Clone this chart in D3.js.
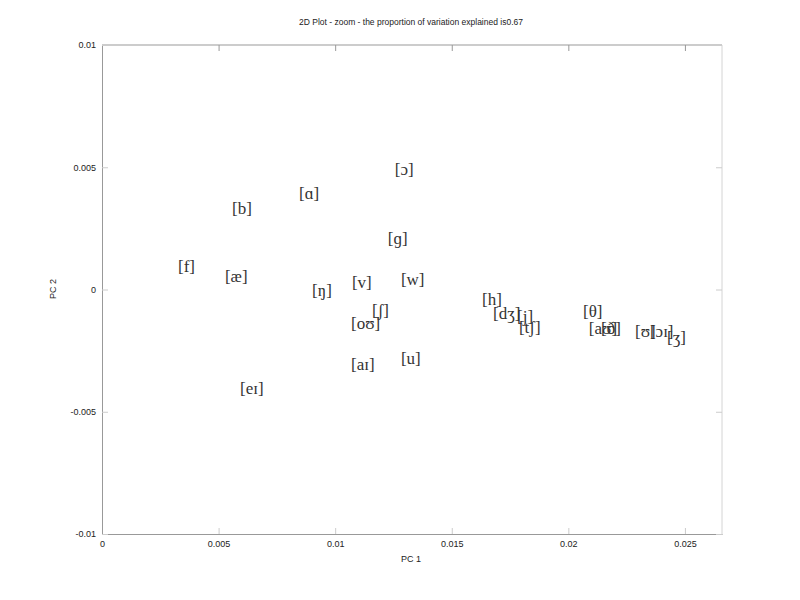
<!DOCTYPE html>
<html>
<head>
<meta charset="utf-8">
<script src="https://cdn.jsdelivr.net/npm/d3@7"></script>
<style>
  html, body { margin: 0; padding: 0; background: #fff; }
  svg { display: block; }
</style>
</head>
<body>
<svg id="chart" width="800" height="600"></svg>
<script>
// ---- Data ----
const labels = ["[ɔ]","[ɑ]","[b]","[ɡ]","[f]","[æ]","[ŋ]","[v]","[w]","[ʃ]","[oʊ]","[aɪ]","[u]","[eɪ]",
                "[h]","[dʒ]","[j]","[tʃ]","[θ]","[aʊ]","[ð]","[ʊ]","[ɔɪ]","[ʒ]"];
const pc1 = [0.01256,0.00845,0.00558,0.01226,0.00326,0.00527,0.00901,0.01072,0.01282,0.01158,0.01068,0.01068,0.01282,0.00592,
             0.01630,0.01677,0.01780,0.01788,0.02063,0.02088,0.02140,0.02286,0.02350,0.02423];
const pc2 = [0.00494,0.00396,0.00335,0.00212,0.00094,0.00057,-0.00004,0.00029,0.00041,-0.00086,-0.00139,-0.00306,-0.00282,-0.00404,
             -0.00041,-0.00098,-0.00110,-0.00155,-0.00090,-0.00159,-0.00159,-0.00168,-0.00168,-0.00196];
const xTicks = [0, 0.005, 0.01, 0.015, 0.02, 0.025];
const yTicks = [-0.01, -0.005, 0, 0.005, 0.01];
const xDomain = [0, 0.02659];
const yDomain = [-0.01, 0.01];
const title = "2D Plot - zoom - the proportion of variation explained is0.67";
const xLabel = "PC 1";
const yLabel = "PC 2";

// ---- Layout ----
const svg = d3.select("#chart");
const L = 102, R = 722, T = 45, B = 534;
const x = d3.scaleLinear().domain(xDomain).range([L, R]);
const y = d3.scaleLinear().domain(yDomain).range([B, T]);
const fmt = d => d === 0 ? "0" : String(+d.toFixed(4));
const axisFont = "Liberation Sans, Arial, sans-serif";

// box lines
svg.append("line").attr("x1", L).attr("x2", R).attr("y1", T).attr("y2", T).attr("stroke", "#999").attr("stroke-width", 1);
svg.append("line").attr("x1", R).attr("x2", R).attr("y1", T).attr("y2", B).attr("stroke", "#d4d4d4").attr("stroke-width", 1);

// bottom axis
const gx = svg.append("g").attr("transform", `translate(0,${B})`)
  .call(d3.axisBottom(x).tickValues(xTicks).tickFormat(fmt).tickSizeInner(-6).tickSizeOuter(0).tickPadding(7));
gx.select(".domain").attr("stroke", "#999");
gx.selectAll(".tick line").attr("stroke", "#ccc");
gx.selectAll(".tick text").attr("font-family", axisFont).attr("font-size", 9).attr("fill", "#222");

// top ticks
const gxt = svg.append("g").attr("transform", `translate(0,${T})`)
  .call(d3.axisTop(x).tickValues(xTicks).tickFormat("").tickSizeInner(-6).tickSizeOuter(0));
gxt.select(".domain").remove();
gxt.selectAll(".tick line").attr("stroke", "#999");

// left axis
const gy = svg.append("g").attr("transform", `translate(${L},0)`)
  .call(d3.axisLeft(y).tickValues(yTicks).tickFormat(fmt).tickSizeInner(-6).tickSizeOuter(0).tickPadding(6));
gy.select(".domain").attr("stroke", "#999");
gy.selectAll(".tick line").attr("stroke", "#ccc");
gy.selectAll(".tick text").attr("font-family", axisFont).attr("font-size", 9).attr("fill", "#222");

// right ticks
const gyr = svg.append("g").attr("transform", `translate(${R},0)`)
  .call(d3.axisRight(y).tickValues(yTicks).tickFormat("").tickSizeInner(-6).tickSizeOuter(0));
gyr.select(".domain").remove();
gyr.selectAll(".tick line").attr("stroke", "#ccc");

// title & axis labels
svg.append("text").attr("x", 411).attr("y", 25).attr("text-anchor", "middle")
  .attr("font-family", axisFont).attr("font-size", 8.5).attr("fill", "#222").text(title);
svg.append("text").attr("x", 411).attr("y", 562).attr("text-anchor", "middle")
  .attr("font-family", axisFont).attr("font-size", 9).attr("fill", "#222").text(xLabel);
svg.append("text").attr("transform", "translate(56,289) rotate(-90)").attr("text-anchor", "middle")
  .attr("font-family", axisFont).attr("font-size", 9).attr("fill", "#222").text(yLabel);

// point labels
svg.append("g").selectAll("text").data(labels).join("text")
  .attr("x", (d, i) => x(pc1[i]))
  .attr("y", (d, i) => y(pc2[i]))
  .attr("dy", "0.35em")
  .attr("font-family", "Liberation Serif, DejaVu Serif, serif")
  .attr("font-size", 17)
  .attr("fill", "#333")
  .text(d => d);
</script>
</body>
</html>
